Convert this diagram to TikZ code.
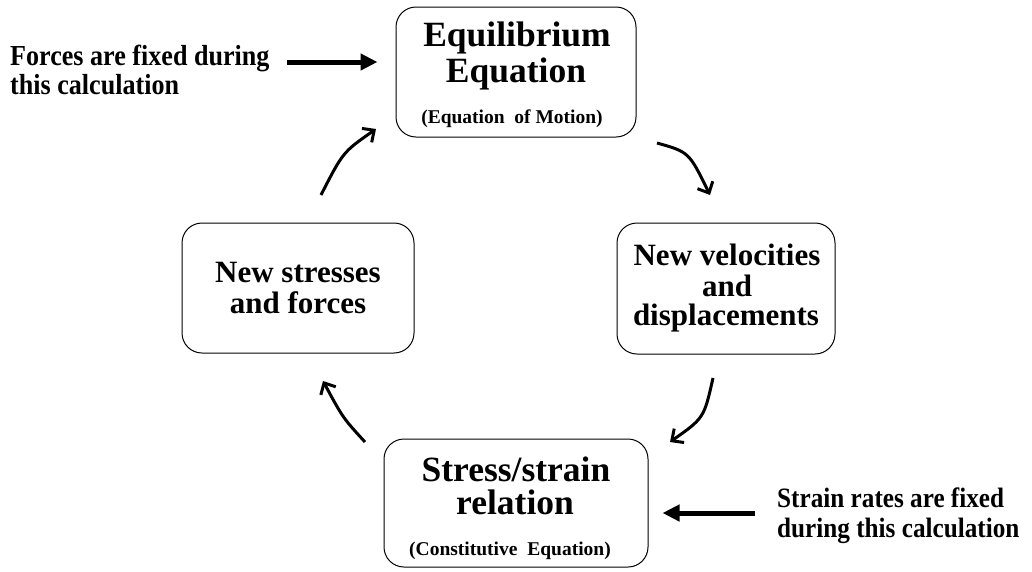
\documentclass[tikz,border=0pt]{standalone}
\usepackage{fontspec}
\setmainfont{Liberation Serif}
\newfontfamily\sidefont{Liberation Serif}[FakeStretch=0.9]
\usetikzlibrary{arrows.meta}
\begin{document}
\begin{tikzpicture}[x=1pt,y=-1pt,
  box/.style={draw=black, line width=1pt, rounded corners=20pt, inner sep=0pt},
  big/.style={anchor=base, inner sep=0pt, font=\fontsize{35.5}{40}\selectfont\bfseries},
  mid/.style={anchor=base, inner sep=0pt, font=\fontsize{31}{36}\selectfont\bfseries},
  small/.style={anchor=base, inner sep=0pt, font=\fontsize{19.5}{22}\selectfont\bfseries},
  side/.style={anchor=base west, inner sep=0pt, font=\sidefont\fontsize{29}{33}\selectfont\bfseries},
  cyc/.style={line width=3pt, -{Straight Barb[length=9pt,width=17pt]}},
  fat/.style={line width=5pt, -{Triangle[length=17pt,width=16pt]}}
]
\useasboundingbox (0,0) rectangle (1032,571);

% the four boxes of the cycle
\node[box, minimum width=240pt, minimum height=130pt] (eq) at (516,72) {};
\node[box, minimum width=218pt, minimum height=131pt] (vel) at (726,288.5) {};
\node[box, minimum width=264pt, minimum height=128pt] (rel) at (516,503) {};
\node[box, minimum width=232pt, minimum height=130pt] (str) at (298,288) {};

% box texts
\node[big] (eqA) at (517,46) {Equilibrium};
\node[big] (eqB) at (516,82) {Equation};
\node[small] (eqC) at (512,123) {(Equation\ \ of Motion)};

\node[mid] (velA) at (727,265) {New velocities};
\node[mid] (velB) at (727,296) {and};
\node[mid] (velC) at (726,325) {displacements};

\node[big] (relA) at (516,481) {Stress/strain};
\node[big] (relB) at (515,514) {relation};
\node[small] (relC) at (510,555) {(Constitutive\ \ Equation)};

\node[mid] (strA) at (298,282) {New stresses};
\node[mid] (strB) at (298,313) {and forces};

% side remarks
\node[side] (forA) at (10,65) {Forces are fixed during};
\node[side] (forB) at (10,94) {this calculation};
\node[side, font=\sidefont\fontsize{28}{32}\selectfont\bfseries] (srA) at (777,507) {Strain rates are fixed};
\node[side, font=\sidefont\fontsize{28}{32}\selectfont\bfseries] (srB) at (777,537) {during this calculation};

% straight arrows pointing at the boxes
\coordinate (fs) at (287,62);
\draw[fat, shorten >=18pt] (fs) -- (fs -| eq.west);
\coordinate (ss) at (755,513);
\draw[fat, shorten >=14pt] (ss) -- (ss -| rel.east);

% curved arrows of the cycle
\coordinate (c1a) at (657,143);
\coordinate (c1b) at (710,195);
\draw[cyc] (c1a) .. controls (689,152) .. (c1b);
\coordinate (c2a) at (713,378);
\coordinate (c2b) at (670,442);
\draw[cyc] (c2a) .. controls (704,418) .. (c2b);
\coordinate (c3a) at (365,442);
\coordinate (c3b) at (323,381);
\draw[cyc] (c3a) .. controls (343,418) .. (c3b);
\coordinate (c4a) at (321,195);
\coordinate (c4b) at (376,129);
\draw[cyc] (c4a) .. controls (343,152) .. (c4b);
\end{tikzpicture}
\end{document}
